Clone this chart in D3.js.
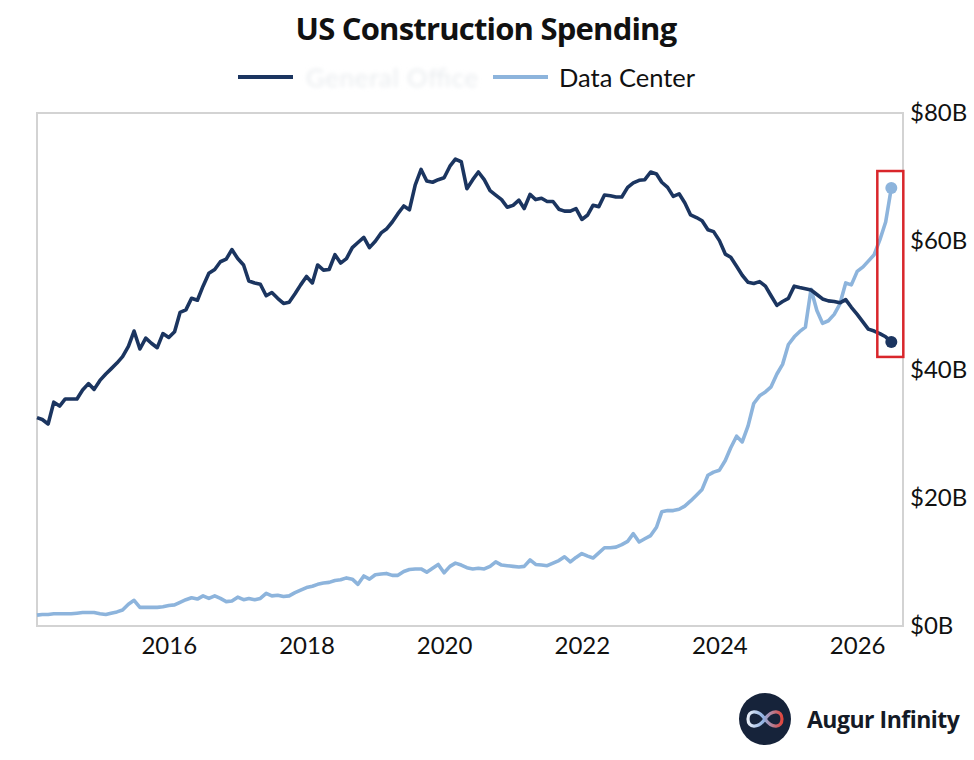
<!DOCTYPE html>
<html>
<head>
<meta charset="utf-8">
<script src="https://cdn.jsdelivr.net/npm/d3@7"></script>
<style>
  html, body { margin: 0; padding: 0; background: #ffffff; }
  svg { display: block; }
</style>
</head>
<body>
<svg id="chart" width="974" height="760"></svg>
<script>
// ---------------- DATA ----------------
const startMonth = "2014-02";           // first monthly observation
const seriesNames = ["General Office", "Data Center"];
const yTicks = [0, 20, 40, 60, 80];
const yTickLabels = ["$0B", "$20B", "$40B", "$60B", "$80B"];
const xTickYears = [2016, 2018, 2020, 2022, 2024, 2026];

// Dark series ($B), monthly from Feb 2014
const officeValues = [
  32.5, 32.2, 31.5, 34.9, 34.3, 35.4, 35.4, 35.4, 36.8, 37.8, 36.9, 38.3,
  39.3, 40.1, 41.0, 42.0, 43.6, 46.0, 43.2, 44.9, 44.1, 43.4, 45.6, 45.0,
  45.9, 48.9, 49.3, 51.1, 50.8, 53.0, 55.0, 55.6, 56.8, 57.2, 58.7, 57.3,
  56.3, 53.8, 53.5, 53.3, 51.5, 52.0, 51.1, 50.3, 50.5, 51.8, 53.2, 54.5,
  53.5, 56.3, 55.5, 55.6, 57.9, 56.6, 57.3, 59.0, 59.8, 60.6, 59.0, 60.0,
  61.3, 61.9, 63.0, 64.3, 65.5, 64.9, 68.8, 71.2, 69.4, 69.2, 69.6, 69.9,
  71.7, 72.8, 72.4, 68.2, 69.6, 70.8, 69.6, 67.9, 67.2, 66.5, 65.3, 65.6,
  66.4, 65.1, 67.3, 66.5, 66.7, 66.2, 66.2, 65.0, 64.7, 64.7, 65.1, 63.4,
  64.1, 65.6, 65.4, 67.2, 67.1, 66.9, 66.9, 68.4, 69.1, 69.5, 69.6, 70.8,
  70.5, 69.2, 68.4, 67.0, 67.4, 66.0, 64.1, 63.7, 63.2, 61.8, 61.5, 60.1,
  58.0, 57.5, 56.1, 54.7, 53.6, 53.4, 53.7, 53.0, 51.5, 50.0, 50.6, 51.1,
  53.0, 52.8, 52.6, 52.4, 51.7, 51.0, 50.7, 50.6, 50.4, 50.9, 49.7, 48.6,
  47.4, 46.3, 46.0, 45.6, 45.1, 44.3
];

// Light series ($B), monthly from Feb 2014
const dataCenterValues = [
  1.7, 1.8, 1.8, 1.9, 1.9, 1.9, 1.9, 2.0, 2.1, 2.1, 2.1, 1.9,
  1.8, 2.0, 2.2, 2.5, 3.4, 4.0, 2.9, 2.9, 2.9, 2.9, 3.0, 3.2,
  3.3, 3.7, 4.1, 4.4, 4.2, 4.7, 4.3, 4.7, 4.3, 3.8, 3.9, 4.5,
  4.1, 4.3, 4.1, 4.3, 5.1, 4.7, 4.8, 4.6, 4.7, 5.2, 5.6, 6.0,
  6.2, 6.5, 6.7, 6.8, 7.1, 7.2, 7.5, 7.3, 6.5, 7.8, 7.3, 8.0,
  8.1, 8.2, 7.9, 7.9, 8.5, 8.8, 8.9, 8.9, 8.4, 9.0, 9.6, 8.3,
  9.3, 9.8, 9.5, 9.1, 8.9, 9.0, 8.9, 9.3, 10.0, 9.5, 9.4, 9.3,
  9.2, 9.3, 10.3, 9.6, 9.5, 9.4, 9.8, 10.2, 10.8, 10.0, 10.7, 11.3,
  10.9, 10.6, 11.4, 12.2, 12.2, 12.3, 12.7, 13.2, 14.4, 13.1, 13.6, 14.1,
  15.4, 17.8, 18.0, 18.0, 18.2, 18.7, 19.5, 20.4, 21.3, 23.5, 24.0, 24.3,
  25.8, 27.8, 29.6, 28.7, 31.2, 34.7, 35.9, 36.5, 37.3, 39.3, 40.8, 43.9,
  45.1, 45.9, 46.6, 52.5, 49.2, 47.2, 47.6, 48.6, 50.2, 53.5, 53.2, 55.3,
  56.0, 56.9, 57.9, 60.2, 63.0, 68.3
];

// ---------------- CHART ----------------
const darkColor = "#1b3560";
const lightColor = "#8db4dc";
const textColor = "#111111";

const svg = d3.select("#chart");
const parseMonth = d3.timeParse("%Y-%m");
const t0 = parseMonth(startMonth);
const dates = officeValues.map((_, i) => d3.timeMonth.offset(t0, i));

const plot = { left: 37, right: 903, top: 113, bottom: 626 };

const x = d3.scaleTime()
  .domain([t0, new Date(2026, 8, 1)])
  .range([plot.left, plot.right]);
const y = d3.scaleLinear()
  .domain([0, 80])
  .range([plot.bottom, plot.top]);

// Title
svg.append("text")
  .attr("x", 486).attr("y", 40)
  .attr("text-anchor", "middle")
  .attr("font-family", "'Open Sans', 'Noto Sans', sans-serif")
  .attr("font-weight", 700)
  .attr("font-size", 31)
  .attr("letter-spacing", -0.8)
  .attr("fill", textColor)
  .text("US Construction Spending");

// Legend
const defs = svg.append("defs");
defs.append("filter").attr("id", "blurText")
  .append("feGaussianBlur").attr("stdDeviation", 2.2);

const legend = svg.append("g").attr("font-family", "Lato, 'Noto Sans', sans-serif").attr("font-size", 25.5);
legend.append("line").attr("x1", 238).attr("x2", 293).attr("y1", 77).attr("y2", 77)
  .attr("stroke", darkColor).attr("stroke-width", 4);
legend.append("text").attr("x", 306).attr("y", 87)
  .attr("fill", "#e9ecef").attr("filter", "url(#blurText)")
  .attr("textLength", 172)
  .text(seriesNames[0]);
legend.append("line").attr("x1", 493).attr("x2", 548).attr("y1", 77).attr("y2", 77)
  .attr("stroke", lightColor).attr("stroke-width", 4);
legend.append("text").attr("x", 559).attr("y", 87)
  .attr("fill", textColor)
  .text(seriesNames[1]);

// Plot frame
svg.append("rect")
  .attr("x", plot.left).attr("y", plot.top)
  .attr("width", plot.right - plot.left).attr("height", plot.bottom - plot.top)
  .attr("fill", "none").attr("stroke", "#d3d3d3").attr("stroke-width", 2);

// Right axis labels
const yAxis = d3.axisRight(y).tickValues(yTicks)
  .tickFormat((d, i) => yTickLabels[i]).tickSize(0).tickPadding(7);
const yg = svg.append("g").attr("transform", `translate(${plot.right},0)`).call(yAxis);
yg.select(".domain").remove();
yg.selectAll("text").attr("font-family", "Lato, 'Noto Sans', sans-serif")
  .attr("font-size", 24).attr("fill", textColor);

// Bottom axis labels
const xAxis = d3.axisBottom(x)
  .tickValues(xTickYears.map(yr => new Date(yr, 0, 1)))
  .tickFormat(d3.timeFormat("%Y")).tickSize(0).tickPadding(11);
const xg = svg.append("g").attr("transform", `translate(0,${plot.bottom})`).call(xAxis);
xg.select(".domain").remove();
xg.selectAll("text").attr("font-family", "Lato, 'Noto Sans', sans-serif")
  .attr("font-size", 24).attr("fill", textColor);

// Lines
const line = d3.line()
  .x((d, i) => x(dates[i]))
  .y(d => y(d))
  .curve(d3.curveLinear);

svg.append("path").datum(dataCenterValues)
  .attr("d", line).attr("fill", "none")
  .attr("stroke", lightColor).attr("stroke-width", 3.6)
  .attr("stroke-linejoin", "round");

svg.append("path").datum(officeValues)
  .attr("d", line).attr("fill", "none")
  .attr("stroke", darkColor).attr("stroke-width", 3.6)
  .attr("stroke-linejoin", "round");

// End dots
const lastI = officeValues.length - 1;
const lastX = x(dates[lastI]);
svg.append("circle").attr("cx", lastX).attr("cy", y(dataCenterValues[lastI]))
  .attr("r", 6).attr("fill", lightColor);
svg.append("circle").attr("cx", lastX).attr("cy", y(officeValues[lastI]))
  .attr("r", 6).attr("fill", darkColor);

// Highlight box around latest readings
const hiY = y(Math.max(officeValues[lastI], dataCenterValues[lastI]));
const loY = y(Math.min(officeValues[lastI], dataCenterValues[lastI]));
svg.append("rect")
  .attr("x", lastX - 14).attr("y", hiY - 17)
  .attr("width", 26).attr("height", (loY - hiY) + 32)
  .attr("fill", "none").attr("stroke", "#d9262b").attr("stroke-width", 2.5);

// Branding
const brand = svg.append("g");
brand.append("circle").attr("cx", 765).attr("cy", 719).attr("r", 26).attr("fill", "#16233a");
const grad = defs.append("linearGradient").attr("id", "infGrad")
  .attr("x1", "0%").attr("x2", "100%").attr("y1", "0%").attr("y2", "0%");
grad.append("stop").attr("offset", "0%").attr("stop-color", "#e8eef8");
grad.append("stop").attr("offset", "45%").attr("stop-color", "#8fb0e0");
grad.append("stop").attr("offset", "100%").attr("stop-color", "#e0473f");
brand.append("path")
  .attr("d", "M765,719 C758,709 748,710 748,719 C748,728 758,729 765,719 C772,709 782,710 782,719 C782,728 772,729 765,719 Z")
  .attr("fill", "none").attr("stroke", "url(#infGrad)").attr("stroke-width", 3.2);
brand.append("text")
  .attr("x", 807).attr("y", 728)
  .attr("font-family", "'Open Sans', 'Noto Sans', sans-serif")
  .attr("font-weight", 700).attr("font-size", 23)
  .attr("letter-spacing", -0.5)
  .attr("fill", "#141a26")
  .text("Augur Infinity");
</script>
</body>
</html>
